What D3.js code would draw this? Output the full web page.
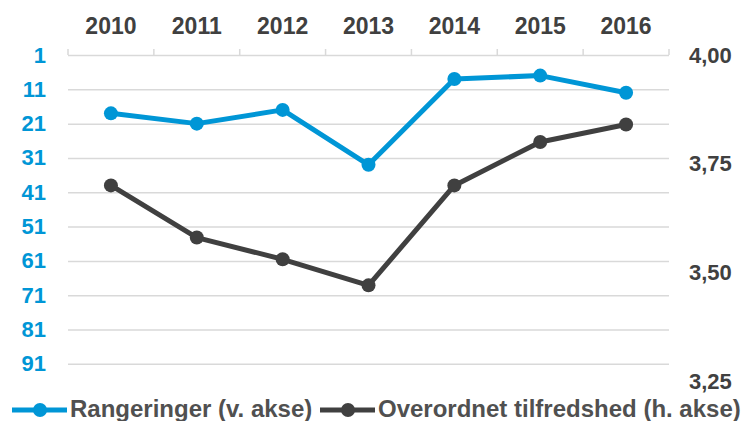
<!DOCTYPE html>
<html>
<head>
<meta charset="utf-8">
<script src="https://cdn.jsdelivr.net/npm/d3@7"></script>
<style>
  body { margin: 0; background: #fff; }
  svg text { font-family: "Liberation Sans", Arial, sans-serif; font-weight: bold; }
</style>
</head>
<body>
<div id="chart"></div>
<script>
// data
var years = ["2010", "2011", "2012", "2013", "2014", "2015", "2016"];
var ranking = [18, 21, 17, 33, 8, 7, 12];
var satisfaction = [3.70, 3.58, 3.53, 3.47, 3.70, 3.80, 3.84];
var rankTicks = [1, 11, 21, 31, 41, 51, 61, 71, 81, 91];
var satTicks = [4.00, 3.75, 3.50, 3.25];
var seriesNames = ["Rangeringer (v. akse)", "Overordnet tilfredshed (h. akse)"];

var width = 744, height = 421;
var plotLeft = 68, plotRight = 669, plotTop = 55, plotBottom = 381;
var blue = "#0096d6", dark = "#404040";

var svg = d3.select("#chart").append("svg")
  .attr("width", width)
  .attr("height", height);

// scales
var x = d3.scaleBand().domain(years).range([plotLeft, plotRight]).padding(0);
var yL = d3.scaleLinear().domain([1, 96]).range([plotTop, plotBottom]);
var yR = d3.scaleLinear().domain([4.00, 3.25]).range([plotTop, plotBottom]);

// gridlines
var grid = svg.append("g")
  .attr("transform", "translate(" + plotLeft + ",0)")
  .call(d3.axisLeft(yL).tickValues(rankTicks).tickSize(-(plotRight - plotLeft)).tickFormat(""));
grid.select(".domain").remove();
grid.selectAll("line").attr("stroke", "#d9d9d9").attr("stroke-width", 1.5);

// top category axis ticks
svg.selectAll(".cattick")
  .data(d3.range(years.length + 1))
  .enter().append("line")
  .attr("x1", function(i) { return plotLeft + i * x.bandwidth(); })
  .attr("x2", function(i) { return plotLeft + i * x.bandwidth(); })
  .attr("y1", plotTop - 6).attr("y2", plotTop)
  .attr("stroke", "#d9d9d9").attr("stroke-width", 1.5);

var xAxis = svg.append("g")
  .attr("transform", "translate(0," + (plotTop - 21) + ")")
  .call(d3.axisTop(x).tickSize(0).tickPadding(0));
xAxis.select(".domain").remove();
xAxis.selectAll("text")
  .attr("font-size", 23).attr("fill", dark).attr("dy", 0)
  .style("font-family", "Liberation Sans, Arial, sans-serif").style("font-weight", "bold");

// left axis
var leftAxis = svg.append("g")
  .attr("transform", "translate(46,0)")
  .call(d3.axisLeft(yL).tickValues(rankTicks).tickSize(0).tickPadding(0));
leftAxis.select(".domain").remove();
leftAxis.selectAll("text")
  .attr("font-size", 22).attr("fill", blue)
  .style("font-family", "Liberation Sans, Arial, sans-serif").style("font-weight", "bold");

// right axis
var rightAxis = svg.append("g")
  .attr("transform", "translate(689,0)")
  .call(d3.axisRight(yR).tickValues(satTicks).tickSize(0).tickPadding(0)
    .tickFormat(function(d) { return d3.format(".2f")(d).replace(".", ","); }));
rightAxis.select(".domain").remove();
rightAxis.selectAll("text")
  .attr("font-size", 22).attr("fill", dark)
  .style("font-family", "Liberation Sans, Arial, sans-serif").style("font-weight", "bold");

// lines
function cx(d, i) { return x(years[i]) + x.bandwidth() / 2; }

var rankLine = d3.line().x(cx).y(function(d) { return yL(d); });
var satLine = d3.line().x(cx).y(function(d) { return yR(d); });

svg.append("path").datum(satisfaction)
  .attr("d", satLine).attr("fill", "none")
  .attr("stroke", dark).attr("stroke-width", 5).attr("stroke-linejoin", "round");
svg.selectAll(".satdot").data(satisfaction).enter().append("circle")
  .attr("cx", cx).attr("cy", function(d) { return yR(d); })
  .attr("r", 7).attr("fill", dark);

svg.append("path").datum(ranking)
  .attr("d", rankLine).attr("fill", "none")
  .attr("stroke", blue).attr("stroke-width", 5).attr("stroke-linejoin", "round");
svg.selectAll(".rankdot").data(ranking).enter().append("circle")
  .attr("cx", cx).attr("cy", function(d) { return yL(d); })
  .attr("r", 7).attr("fill", blue);

// legend
var legend = [
  {name: seriesNames[0], color: blue, x: 12},
  {name: seriesNames[1], color: dark, x: 320}
];
var lg = svg.selectAll(".legend").data(legend).enter().append("g")
  .attr("transform", function(d) { return "translate(" + d.x + ",410)"; });
lg.append("line").attr("x1", 0).attr("x2", 55)
  .attr("stroke", function(d) { return d.color; }).attr("stroke-width", 5);
lg.append("circle").attr("cx", 28).attr("r", 7)
  .attr("fill", function(d) { return d.color; });
lg.append("text").attr("x", 58).attr("y", 7)
  .attr("font-size", 24).attr("fill", "#505050")
  .text(function(d) { return d.name; });
</script>
</body>
</html>
